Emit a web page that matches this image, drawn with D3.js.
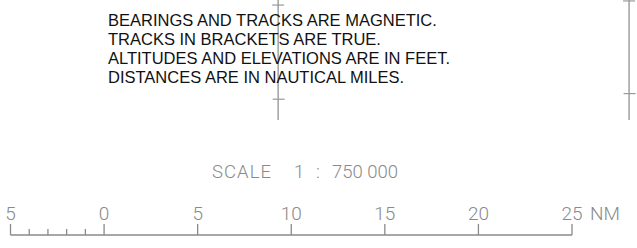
<!DOCTYPE html>
<html>
<head>
<meta charset="utf-8">
<script src="https://cdn.jsdelivr.net/npm/d3@7"></script>
<style>
  body { margin: 0; background: #fff; }
  svg { display: block; }
</style>
</head>
<body>
<div class="scale-plot"></div>
<script>
// chart values
const notes = [
	"BEARINGS AND TRACKS ARE MAGNETIC.",
	"TRACKS IN BRACKETS ARE TRUE.",
	"ALTITUDES AND ELEVATIONS ARE IN FEET.",
	"DISTANCES ARE IN NAUTICAL MILES."
];
const majorTicks = [-5, 0, 5, 10, 15, 20, 25];
const tickLabels = ["5", "0", "5", "10", "15", "20", "25"];
const minorTicks = [-4, -3, -2, -1];
const scaleText = ["SCALE", "1", ":", "750 000"];
const unitLabel = "NM";
// graticule meridians (x in NM of the bar scale) and their cross ticks
const meridians = [9.3, 28.05];
const crossTicks = [[0.27, 5.3], [0.05, 5]]; // in NM along y for each meridian

const width = 637;
const height = 248;
const svg = d3.select('.scale-plot')
	.append('svg')
	.attr('width', width)
	.attr('height', height);

const x = d3.scaleLinear().domain([-5, 25]).range([10.5, 572]);
const y = d3.scaleLinear().domain([0, 5]).range([0, 93.6]);

// meridian lines
svg.selectAll('.meridian')
	.data(meridians)
	.enter()
	.append('line')
	.attr("class", "meridian")
	.attr("x1", d => x(d))
	.attr("x2", d => x(d))
	.attr("y1", 0)
	.attr("y2", 120)
	.attr("stroke", "#9a9a9a")
	.attr("stroke-width", 1.4);

meridians.forEach((m, i) => {
	svg.selectAll('.cross' + i)
		.data(crossTicks[i])
		.enter()
		.append('line')
		.attr("x1", (d, j) => x(m) - (j == 0 ? 6 : 5.5))
		.attr("x2", (d, j) => x(m) + (j == 0 ? 6 : 6.5))
		.attr("y1", d => y(d))
		.attr("y2", d => y(d))
		.attr("stroke", "#9a9a9a")
		.attr("stroke-width", 1.2);
});

// notes
svg.selectAll('.note')
	.data(notes)
	.enter()
	.append('text')
	.attr("class", "note")
	.attr("x", 108)
	.attr("y", (d, i) => 26 + i * 19)
	.attr("font-family", "Liberation Sans, Arial, sans-serif")
	.attr("font-size", 16.5)
	.attr("fill", "#111")
	.text(d => d);

// scale title
const titleX = [212, 294, 316, 332];
const titleW = [59, null, null, 66];
svg.selectAll('.scaletitle')
	.data(scaleText)
	.enter()
	.append('text')
	.attr("class", "scaletitle")
	.attr("x", (d, i) => titleX[i])
	.attr("y", 178)
	.attr("font-family", "Roboto, sans-serif")
	.attr("font-weight", 300)
	.attr("font-size", 18.5)
	.attr("fill", "#8a8a8a")
	.each(function(d, i) {
		if (titleW[i]) d3.select(this).attr("textLength", titleW[i]).attr("lengthAdjust", "spacing");
	})
	.text(d => d);

// bar
const bar = svg.append('g').attr("stroke", "#8a8a8a").attr("stroke-width", 1.3);
bar.append('line')
	.attr("x1", x(-5)).attr("x2", x(25))
	.attr("y1", 235).attr("y2", 235);
bar.selectAll('.major')
	.data(majorTicks)
	.enter()
	.append('line')
	.attr("x1", d => x(d)).attr("x2", d => x(d))
	.attr("y1", 224).attr("y2", 235);
bar.selectAll('.minor')
	.data(minorTicks)
	.enter()
	.append('line')
	.attr("x1", d => x(d)).attr("x2", d => x(d))
	.attr("y1", 229).attr("y2", 235);

svg.selectAll('.ticklabel')
	.data(majorTicks)
	.enter()
	.append('text')
	.attr("class", "ticklabel")
	.attr("x", d => x(d))
	.attr("y", 220)
	.attr("text-anchor", "middle")
	.attr("font-family", "Roboto, sans-serif")
	.attr("font-weight", 300)
	.attr("font-size", 19)
	.attr("fill", "#8a8a8a")
	.text((d, i) => tickLabels[i]);

svg.append('text')
	.attr("x", x(25) + 18)
	.attr("y", 220)
	.attr("font-family", "Roboto, sans-serif")
	.attr("font-weight", 300)
	.attr("font-size", 19)
	.attr("fill", "#8a8a8a")
	.text(unitLabel);
</script>
</body>
</html>
